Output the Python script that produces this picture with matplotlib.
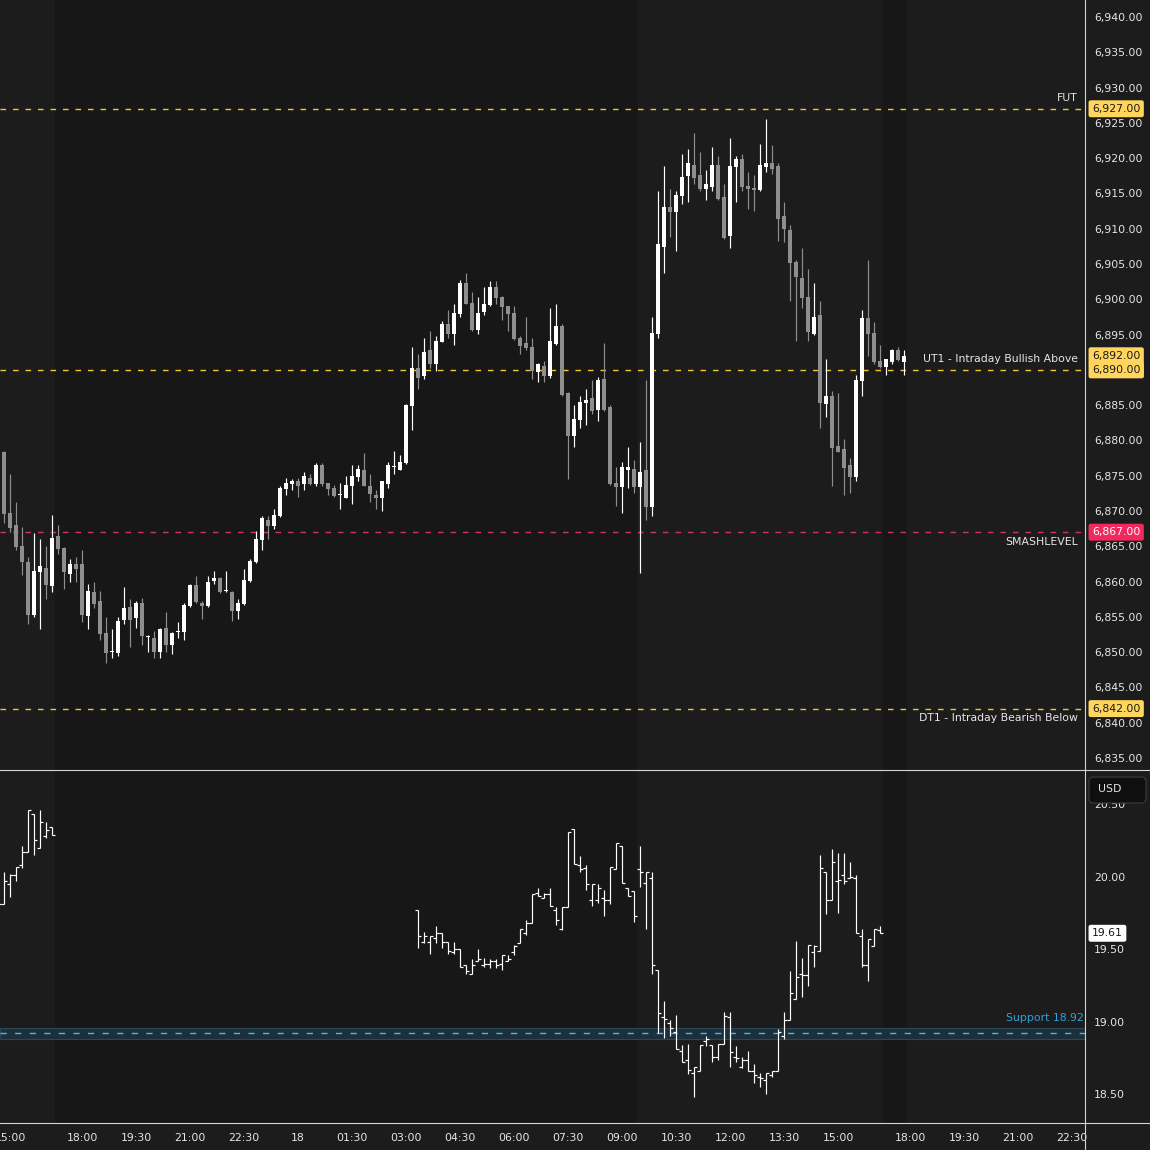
import numpy as np
import pandas as pd
import matplotlib
matplotlib.use('Agg')
import matplotlib.pyplot as plt
from matplotlib.lines import Line2D
from matplotlib.patches import FancyBboxPatch

plt.rcParams['font.family'] = ['DejaVu Sans']

# --- futures, 10 minute candles from 14:40 (day 17) to 16:50 (day 18), 17:00 hour is the break
es_open = [
    6879.8, 6878.3, 6869.7, 6868.0, 6865.0, 6862.8, 6855.3, 6861.4, 6861.9, 6859.4,
    6866.5, 6864.8, 6861.1, 6862.5, 6862.5, 6855.1, 6858.5, 6857.2, 6852.7, 6850.0,
    6849.9, 6854.6, 6856.4, 6854.8, 6857.0, 6852.1, 6852.0, 6850.0, 6853.4, 6851.0,
    6852.9, 6852.9, 6856.5, 6859.5, 6857.0, 6856.5, 6860.1, 6860.5, 6858.6, 6858.5,
    6855.8, 6856.8, 6860.1, 6862.8, 6865.9, 6868.7, 6867.9, 6869.3, 6873.1, 6873.8,
    6874.3, 6873.8, 6874.7, 6873.8, 6876.5, 6874.0, 6873.3, 6872.2, 6871.8, 6873.5,
    6874.8, 6875.8, 6873.5, 6872.3, 6871.8, 6873.8, 6876.2, 6875.8, 6876.8, 6884.9,
    6890.3, 6889.1, 6892.8, 6890.8, 6894.0, 6896.5, 6895.1, 6897.9, 6902.3, 6899.5,
    6895.7, 6898.2, 6899.2, 6901.7, 6900.3, 6899.0, 6898.1, 6894.5, 6893.8, 6893.2,
    6889.7, 6890.6, 6889.1, 6893.7, 6896.2, 6886.7, 6880.6, 6882.9, 6885.3, 6886.0,
    6884.3, 6888.7, 6884.7, 6874.0, 6873.4, 6875.8, 6876.0, 6873.4, 6875.8, 6870.6,
    6895.1, 6907.4, 6913.1, 6912.4, 6914.6, 6917.5, 6919.0, 6917.6, 6915.6, 6915.9,
    6919.0, 6914.5, 6909.0, 6918.8, 6919.9, 6916.1, 6915.8, 6915.5, 6918.8, 6919.3,
    6918.9, 6911.8, 6909.8, 6905.3, 6903.0, 6900.3, 6895.1, 6897.8, 6885.2, 6886.3,
    6879.2, 6878.8, 6876.5, 6874.8, 6888.4, 6897.4, 6895.2, 6891.3, 6890.4, 6891.1,
    6892.8, 6891.1]
es_high = [
    6880.0, 6878.5, 6875.2, 6871.3, 6867.7, 6863.5, 6866.9, 6866.1, 6865.0, 6869.4,
    6868.0, 6864.9, 6863.2, 6863.5, 6864.5, 6859.7, 6859.9, 6858.7, 6855.0, 6853.3,
    6855.0, 6859.2, 6857.5, 6857.2, 6857.7, 6852.4, 6853.0, 6853.4, 6855.7, 6852.9,
    6854.3, 6857.0, 6859.7, 6860.8, 6857.2, 6860.8, 6861.5, 6860.6, 6861.5, 6858.6,
    6857.5, 6861.8, 6863.2, 6867.2, 6869.3, 6869.3, 6870.3, 6873.5, 6874.7, 6874.5,
    6874.7, 6875.5, 6875.2, 6876.8, 6876.8, 6874.0, 6873.7, 6874.0, 6875.0, 6876.5,
    6876.5, 6878.2, 6875.2, 6873.0, 6874.3, 6876.9, 6878.5, 6877.9, 6885.1, 6893.2,
    6892.3, 6894.5, 6895.5, 6894.8, 6896.9, 6898.5, 6899.3, 6902.7, 6903.7, 6901.0,
    6900.3, 6901.7, 6902.6, 6902.6, 6900.4, 6899.1, 6899.1, 6894.8, 6897.5, 6894.5,
    6891.0, 6891.3, 6898.8, 6899.3, 6896.5, 6886.8, 6885.0, 6886.3, 6887.3, 6888.6,
    6889.0, 6893.8, 6885.0, 6876.2, 6876.9, 6879.1, 6877.2, 6879.8, 6888.6, 6897.5,
    6915.3, 6918.9, 6915.6, 6915.3, 6920.6, 6921.3, 6923.6, 6920.9, 6918.3, 6921.6,
    6920.3, 6916.3, 6922.9, 6920.3, 6920.6, 6918.0, 6917.6, 6922.0, 6925.6, 6921.9,
    6919.3, 6913.8, 6910.5, 6905.6, 6907.3, 6904.3, 6902.3, 6899.8, 6891.5, 6887.0,
    6886.7, 6880.2, 6877.5, 6889.3, 6898.5, 6905.6, 6896.8, 6893.5, 6891.6, 6893.0,
    6893.2, 6892.8]
es_low = [
    6877.0, 6868.3, 6867.0, 6864.5, 6860.9, 6854.0, 6855.0, 6853.3, 6857.5, 6858.5,
    6863.9, 6858.9, 6859.9, 6859.9, 6854.3, 6853.3, 6856.3, 6851.7, 6848.5, 6849.2,
    6849.5, 6854.0, 6850.7, 6853.4, 6851.0, 6850.0, 6849.2, 6849.2, 6850.0, 6849.7,
    6852.0, 6851.7, 6856.4, 6857.0, 6854.7, 6856.4, 6859.7, 6858.4, 6858.5, 6854.4,
    6854.7, 6856.7, 6860.0, 6862.7, 6864.5, 6866.0, 6867.5, 6869.1, 6872.3, 6873.0,
    6872.0, 6873.0, 6873.7, 6873.5, 6873.5, 6872.3, 6872.0, 6870.3, 6871.8, 6871.0,
    6874.3, 6873.5, 6871.3, 6870.3, 6870.0, 6873.3, 6875.2, 6875.8, 6876.7, 6881.5,
    6887.3, 6888.7, 6890.3, 6889.8, 6893.9, 6894.5, 6893.5, 6897.5, 6899.3, 6895.5,
    6895.1, 6897.8, 6899.1, 6899.3, 6897.1, 6895.5, 6894.2, 6892.3, 6892.8, 6888.7,
    6888.3, 6888.3, 6888.9, 6893.5, 6886.3, 6874.5, 6879.1, 6881.8, 6882.2, 6883.7,
    6882.8, 6884.2, 6873.7, 6870.7, 6869.7, 6873.3, 6872.6, 6861.2, 6868.7, 6869.3,
    6894.5, 6903.7, 6908.8, 6906.8, 6913.5, 6913.8, 6916.3, 6915.3, 6914.1, 6915.3,
    6914.1, 6908.5, 6907.3, 6913.8, 6915.3, 6912.8, 6912.5, 6915.3, 6918.0, 6917.8,
    6908.3, 6908.1, 6899.8, 6894.1, 6898.8, 6894.1, 6895.0, 6881.8, 6883.3, 6873.5,
    6878.3, 6872.3, 6872.6, 6874.3, 6886.3, 6892.0, 6890.8, 6890.3, 6889.3, 6890.8,
    6891.3, 6889.3]
es_close = [
    6878.5, 6869.6, 6867.6, 6864.9, 6862.8, 6855.3, 6861.5, 6862.2, 6859.5, 6866.2,
    6864.6, 6861.4, 6862.5, 6861.8, 6855.3, 6858.7, 6856.8, 6852.6, 6849.9, 6850.1,
    6854.4, 6856.3, 6854.6, 6857.0, 6852.3, 6852.2, 6850.0, 6853.3, 6851.0, 6852.7,
    6853.0, 6856.7, 6859.5, 6857.1, 6856.5, 6859.9, 6860.5, 6858.5, 6858.7, 6855.8,
    6857.0, 6860.2, 6862.9, 6866.0, 6869.0, 6867.9, 6869.4, 6873.3, 6874.0, 6874.3,
    6873.5, 6875.0, 6873.8, 6876.5, 6873.8, 6873.1, 6872.1, 6872.3, 6873.7, 6875.0,
    6876.0, 6873.5, 6872.4, 6871.8, 6874.3, 6876.5, 6876.3, 6876.9, 6885.0, 6890.3,
    6888.9, 6892.5, 6890.8, 6894.1, 6896.5, 6895.1, 6898.1, 6902.3, 6899.3, 6895.7,
    6898.1, 6899.3, 6901.7, 6900.2, 6898.9, 6897.9, 6894.4, 6893.4, 6893.1, 6889.8,
    6890.8, 6889.1, 6894.1, 6896.2, 6886.4, 6880.6, 6883.0, 6885.4, 6885.7, 6884.2,
    6888.6, 6884.3, 6873.8, 6873.4, 6876.2, 6876.2, 6873.4, 6875.5, 6870.6, 6895.2,
    6907.8, 6913.1, 6912.4, 6914.8, 6917.3, 6919.3, 6917.2, 6915.6, 6916.3, 6919.0,
    6914.2, 6908.7, 6918.9, 6919.9, 6915.9, 6915.6, 6915.5, 6919.0, 6919.3, 6918.5,
    6911.4, 6910.0, 6905.1, 6903.2, 6900.2, 6895.4, 6897.5, 6885.3, 6886.3, 6878.9,
    6878.4, 6876.1, 6874.8, 6888.6, 6897.4, 6895.1, 6891.1, 6890.4, 6891.5, 6892.8,
    6891.4, 6892.0]

# --- VIX, 10 minute OHLC bars, two sessions
vix1_start = '2025-12-17 14:40'
vix1_open = [19.78, 19.81, 19.95, 20.01, 20.08, 20.17, 20.43, 20.20, 20.28, 20.34]
vix1_high = [19.83, 20.03, 20.02, 20.07, 20.21, 20.46, 20.43, 20.46, 20.38, 20.34]
vix1_low = [19.77, 19.81, 19.86, 19.97, 20.06, 20.17, 20.15, 20.20, 20.27, 20.29]
vix1_close = [19.81, 19.97, 20.01, 20.07, 20.17, 20.46, 20.25, 20.38, 20.32, 20.29]

vix2_start = '2025-12-18 03:20'
vix2_open = [
    19.77, 19.55, 19.55, 19.58, 19.61, 19.55, 19.48, 19.50, 19.39, 19.33,
    19.42, 19.39, 19.40, 19.42, 19.40, 19.42, 19.48, 19.54, 19.61, 19.68,
    19.89, 19.85, 19.88, 19.77, 19.64, 19.79, 20.33, 20.08, 20.06, 19.84,
    19.84, 19.85, 19.84, 20.05, 20.21, 19.92, 19.90, 20.05, 19.96, 19.99,
    19.36, 19.03, 18.99, 18.93, 18.80, 18.74, 18.65, 18.66, 18.87, 18.84,
    18.76, 18.85, 19.03, 18.76, 18.69, 18.74, 18.66, 18.62, 18.60, 18.63,
    18.66, 18.90, 19.01, 19.16, 19.33, 19.32, 19.48, 19.49, 20.03, 19.84,
    19.97, 20.01, 19.99, 19.99, 19.59, 19.39, 19.52, 19.63]
vix2_high = [
    19.77, 19.62, 19.59, 19.66, 19.61, 19.55, 19.55, 19.50, 19.39, 19.43,
    19.50, 19.44, 19.43, 19.43, 19.46, 19.46, 19.53, 19.64, 19.70, 19.88,
    19.92, 19.89, 19.92, 19.79, 19.79, 20.31, 20.33, 20.14, 20.08, 19.95,
    19.95, 19.91, 20.07, 20.23, 20.21, 19.92, 19.90, 20.21, 20.03, 20.03,
    19.36, 19.14, 19.01, 19.05, 18.84, 18.85, 18.69, 18.84, 18.90, 18.84,
    18.85, 19.07, 19.07, 18.83, 18.76, 18.80, 18.71, 18.65, 18.65, 18.66,
    18.95, 19.07, 19.35, 19.56, 19.44, 19.53, 19.53, 20.15, 20.03, 20.19,
    20.16, 20.16, 20.10, 20.01, 19.64, 19.57, 19.64, 19.66]
vix2_low = [
    19.51, 19.54, 19.47, 19.54, 19.51, 19.47, 19.47, 19.38, 19.33, 19.33,
    19.42, 19.38, 19.37, 19.37, 19.36, 19.42, 19.46, 19.54, 19.60, 19.68,
    19.87, 19.85, 19.80, 19.67, 19.63, 19.79, 20.09, 20.03, 19.91, 19.80,
    19.82, 19.73, 19.81, 20.05, 19.96, 19.87, 19.69, 19.93, 19.64, 19.33,
    18.92, 18.89, 18.90, 18.81, 18.72, 18.64, 18.48, 18.66, 18.83, 18.72,
    18.74, 18.85, 18.69, 18.72, 18.68, 18.66, 18.58, 18.55, 18.50, 18.62,
    18.66, 18.88, 19.01, 19.16, 19.17, 19.25, 19.38, 19.49, 19.74, 19.84,
    19.75, 19.95, 19.99, 19.61, 19.38, 19.28, 19.52, 19.61]
vix2_close = [
    19.59, 19.59, 19.59, 19.61, 19.55, 19.49, 19.50, 19.38, 19.35, 19.39,
    19.43, 19.40, 19.42, 19.39, 19.46, 19.43, 19.52, 19.64, 19.68, 19.88,
    19.87, 19.88, 19.80, 19.70, 19.79, 20.31, 20.09, 20.05, 19.95, 19.95,
    19.92, 19.84, 20.07, 20.23, 19.96, 19.87, 19.73, 20.03, 20.03, 19.39,
    19.06, 19.02, 18.96, 18.81, 18.72, 18.67, 18.69, 18.84, 18.88, 18.76,
    18.85, 19.04, 18.79, 18.75, 18.74, 18.66, 18.63, 18.61, 18.65, 18.66,
    18.93, 19.01, 19.20, 19.31, 19.32, 19.53, 19.52, 20.06, 19.84, 20.10,
    19.98, 19.97, 20.00, 19.61, 19.39, 19.57, 19.64, 19.61]

# --- horizontal levels on the futures panel
level_prices = [6927.0, 6890.0, 6867.0, 6842.0]
level_names = ['FUT', 'UT1 - Intraday Bullish Above', 'SMASHLEVEL', 'DT1 - Intraday Bearish Below']
support_level = 18.92

# --- x axis labels
xtick_times = ['2025-12-17 15:00', '2025-12-17 18:00', '2025-12-17 19:30', '2025-12-17 21:00',
               '2025-12-17 22:30', '2025-12-18 00:00', '2025-12-18 01:30', '2025-12-18 03:00',
               '2025-12-18 04:30', '2025-12-18 06:00', '2025-12-18 07:30', '2025-12-18 09:00',
               '2025-12-18 10:30', '2025-12-18 12:00', '2025-12-18 13:30', '2025-12-18 15:00',
               '2025-12-18 18:00', '2025-12-18 19:30', '2025-12-18 21:00', '2025-12-18 22:30']
xtick_labels = ['15:00', '18:00', '19:30', '21:00', '22:30', '18', '01:30', '03:00', '04:30',
                '06:00', '07:30', '09:00', '10:30', '12:00', '13:30', '15:00',
                '18:00', '19:30', '21:00', '22:30']

# --- regular session (lighter background) periods, last bar included
light_sessions = [(None, '2025-12-17 16:10'), ('2025-12-18 09:30', '2025-12-18 16:10'),
                  ('2025-12-18 18:00', None)]

# --- colours
BG_LIGHT = '#1c1c1c'
BG_DARK = '#171717'
UP = '#ffffff'
DOWN = '#8e8e8e'
TXT = '#e6e6e6'
YEL = '#f5c431'
YEL_BOX = '#ffd55c'
PINK = '#cf3563'
PINK_BOX = '#f2295f'
CYAN = '#4cb6ea'

# --- bar slots: 10 min grid with the 17:00 hour removed
grid = pd.date_range('2025-12-17 14:40', '2025-12-19 02:00', freq='10min')
grid = grid[grid.hour != 17]
slot = {t: i for i, t in enumerate(grid)}


def slots_from(start, n):
    return np.array([slot[t] for t in pd.date_range(start, periods=n, freq='10min')])


es_x = np.arange(len(es_open))  # futures bars are consecutive slots from the start of the grid
vix1_x = slots_from(vix1_start, len(vix1_open))
vix2_x = slots_from(vix2_start, len(vix2_open))

W, H = 1150, 1150
fig = plt.figure(figsize=(W / 100, H / 100), dpi=100, facecolor=BG_LIGHT)
ax1 = fig.add_axes([0, 1 - 770 / H, 1085 / W, 770 / H])
ax2 = fig.add_axes([0, 1 - 1123 / H, 1085 / W, (1123 - 771) / H], sharex=ax1)

xmin, xmax = 1 / 3, 1087 / 6
for ax in (ax1, ax2):
    ax.set_facecolor(BG_DARK)
    for s in ax.spines.values():
        s.set_visible(False)
    for a, b in light_sessions:
        lo = xmin - 1 if a is None else slot[pd.Timestamp(a)] - 0.5
        hi = xmax + 1 if b is None else slot[pd.Timestamp(b)] + 0.5
        ax.axvspan(lo, hi, color=BG_LIGHT, lw=0, zorder=0)
    ax.yaxis.tick_right()
    ax.tick_params(axis='y', length=0, pad=6.5, labelsize=7.8, labelcolor=TXT)
ax1.set_xlim(xmin, xmax)
ax1.set_ylim(6833.3, 6942.41)
ax2.set_ylim(18.3024, 20.7285)

# --- candles
o, h, l, c = map(np.asarray, (es_open, es_high, es_low, es_close))
cols = np.where(c >= o, UP, DOWN)
ax1.vlines(es_x, l, h, colors=cols, lw=0.85, zorder=3)
ax1.bar(es_x, np.maximum(np.abs(c - o), 0.15), bottom=np.minimum(o, c), width=0.82,
        color=cols, lw=0, zorder=4)

# --- OHLC bars
for x, o2, h2, l2, c2 in [(vix1_x, vix1_open, vix1_high, vix1_low, vix1_close),
                          (vix2_x, vix2_open, vix2_high, vix2_low, vix2_close)]:
    ax2.vlines(x, l2, h2, colors='white', lw=0.85, zorder=3)
    ax2.hlines(o2, x - 0.42, x, colors='white', lw=0.85, zorder=3)
    ax2.hlines(c2, x, x + 0.42, colors='white', lw=0.85, zorder=3)

# --- y ticks
ax1.set_yticks(np.arange(6835, 6941, 5))
ax1.set_yticklabels([f'{v:,.2f}' for v in np.arange(6835, 6941, 5)])
ax2.set_yticks([18.5, 19.0, 19.5, 20.0, 20.5])
ax2.set_yticklabels(['18.50', '19.00', '19.50', '20.00', '20.50'])

# --- x ticks
ax2.set_xticks([slot[pd.Timestamp(t)] for t in xtick_times])
ax2.set_xticklabels(xtick_labels)
ax2.tick_params(axis='x', length=0, pad=7, labelsize=7.8, labelcolor=TXT)
ax1.tick_params(axis='x', length=0, labelbottom=False)

# --- levels
label_x = 1078 / 1085
offsets = [7.5, 8, -7, -7]
for price, name, off in zip(level_prices, level_names, offsets):
    col = PINK if name == 'SMASHLEVEL' else YEL
    ax1.axhline(price, color=col, lw=1.0, ls=(0, (4, 5)), zorder=2)
    ax1.annotate(name, xy=(label_x, price), xycoords=('axes fraction', 'data'),
                 xytext=(0, off), textcoords='offset points', ha='right', va='center',
                 fontsize=7.8, color=TXT, zorder=6)


def price_tag(ax, price, text, fc, tc):
    ax.annotate(text, xy=(1092 / W, price), xycoords=('figure fraction', 'data'),
                ha='left', va='center', fontsize=7.8, color=tc, zorder=10,
                annotation_clip=False,
                bbox=dict(boxstyle='round,pad=0.32,rounding_size=0.2', fc=fc, ec='none'))


for price in level_prices:
    if price == 6867.0:
        price_tag(ax1, price, f'{price:,.2f}', PINK_BOX, 'white')
    else:
        price_tag(ax1, price, f'{price:,.2f}', YEL_BOX, '#1a1a1a')
price_tag(ax1, es_close[-1], f'{es_close[-1]:,.2f}', YEL_BOX, '#1a1a1a')

# --- support zone on the VIX panel
ax2.axhspan(support_level - 0.04, support_level + 0.04, fc='#1c303b', ec='#29475a', lw=0.8, zorder=1)
ax2.axhline(support_level, color=CYAN, lw=1.0, ls=(0, (4.5, 6)), zorder=2)
ax2.annotate(f'Support {support_level:.2f}', xy=(1084 / 1085, support_level),
             xycoords=('axes fraction', 'data'), xytext=(0, 11), textcoords='offset points',
             ha='right', va='center', fontsize=7.8, color='#2fa2dc', zorder=6)
price_tag(ax2, vix2_close[-1], f'{vix2_close[-1]:.2f}', 'white', '#1a1a1a')

# --- currency box on the lower scale
fig.add_artist(FancyBboxPatch((1089 / W, 1 - 803 / H), 57 / W, 26 / H,
                              boxstyle='round,pad=0,rounding_size=0.004',
                              transform=fig.transFigure, fc='#0f0f0f', ec='#3c3c3c',
                              lw=0.8, zorder=20))
fig.text(1098 / W, 1 - 789 / H, 'USD', ha='left', va='center', fontsize=7.8,
         color=TXT, zorder=21)

# --- panel borders
line_kw = dict(transform=fig.transFigure, color='#d4d4d4', lw=0.8, zorder=15)
fig.add_artist(Line2D([0, 1], [1 - 770 / H] * 2, **line_kw))
fig.add_artist(Line2D([0, 1], [1 - 1123 / H] * 2, **line_kw))
fig.add_artist(Line2D([1085 / W] * 2, [0, 1], **line_kw))

fig.savefig('out.png', dpi=100, facecolor=fig.get_facecolor())
